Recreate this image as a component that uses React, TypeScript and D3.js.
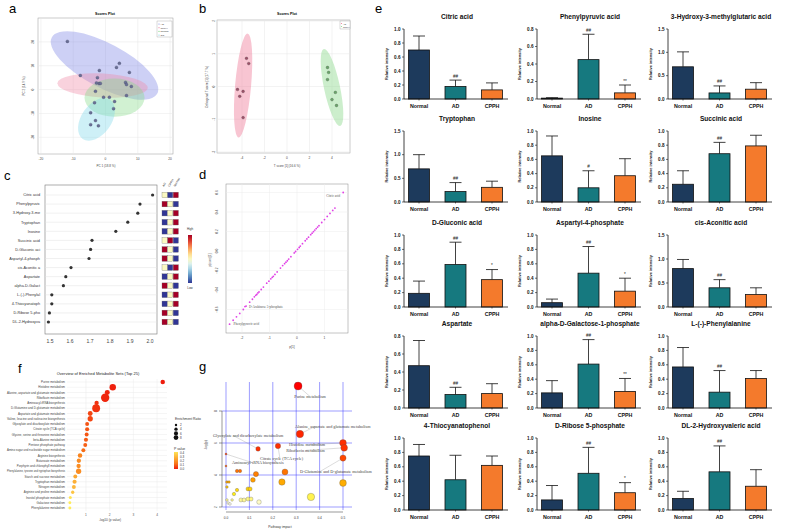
import React from "react";
import * as d3 from "d3";

const FONT = "'Liberation Sans', Arial, Helvetica, sans-serif";
const SERIF = "'Liberation Serif', 'Times New Roman', serif";

// ---------------- Panel a : PCA scores ----------------
const pcaLegend = ["AD", "CPPH", "Normal", "QC"];
const pcaTicks = [-20, -10, 0, 10, 20];
const pcaX = [-11.8, 4.3, 3.4, 7.4, -1.9, -7.8, -2.5, -2.0, -2.8, -1.6, 6.2, 6.5, 8.0, 6.5, -3.1, -0.6, 1.2, 2.8, 2.5, -3.4, -4.6, -3.1, -4.6, -2.2];
const pcaY = [20.2, 11, 9.3, 7.2, 8, 5.9, 5, 2.5, 2.8, 2.6, 3, 2.1, 1.3, -2.5, -0.7, -3.2, -3.2, -5, -8, -5.5, -9.7, -13, -14.7, -15.2];
const pcaEllCx = [-0.3, -0.9, 2.8, -2.8];
const pcaEllCy = [10.1, 1.7, -3.4, -12.5];
const pcaEllRx = [18.5, 14, 9.3, 7.4];
const pcaEllRy = [9.3, 5, 8, 6.3];
const pcaEllRot = [28, 3, 0, -55];
const pcaEllColor = ["#7b83e6", "#f08aa6", "#86d98a", "#7fd8ea"];

// ---------------- Panel b : OPLS-DA scores ----------------
const oplsLegend = ["AD", "CPPH"];
const oplsXTicks = [-4, -2, 0, 2, 4];
const oplsYTicks = [-2, -1, 0, 1, 2];
const oplsX = [-3.6, -3.4, -4.4, -4.2, -3.9, -3.9, 3.6, 3.7, 3.6, 4.3, 4.0, 4.4];
const oplsY = [0.86, 0.7, -0.09, -0.3, -0.15, -0.95, 0.58, 0.43, 0.21, -0.18, -0.4, -0.58];
const oplsGroup = [0, 0, 0, 0, 0, 0, 1, 1, 1, 1, 1, 1];
const oplsEllCx = [-3.9, 4.0];
const oplsEllCy = [0.03, -0.03];
const oplsEllRx = [0.71, 0.71];
const oplsEllRy = [1.59, 1.2];
const oplsEllRot = [5, -12];
const oplsEllColor = ["#f07f9c", "#8fd98f"];

// ---------------- Panel c : VIP ----------------
const vipNames = ["Citric acid", "Phenylpyruvic", "3-Hydroxy-3-me", "Tryptophan", "Inosine", "Succinic acid", "D-Gluconic aci", "Aspartyl-4-phosph", "cis-Aconitic a", "Aspartate", "alpha-D-Galact", "L-(-)-Phenylal", "4-Thiocyanatoph", "D-Ribose 5-pho", "DL-2-Hydroxyva"];
const vipScores = [2.013, 1.95, 1.939, 1.889, 1.829, 1.71, 1.703, 1.695, 1.605, 1.579, 1.567, 1.509, 1.509, 1.497, 1.492];
const vipTicks = [1.5, 1.6, 1.7, 1.8, 1.9, 2.0];
const heatCols = ["AD", "CPPH", "Normal"];
const heatAD = [0, 1, -1, -1, -1, 0, 1, 1, 0, -1, 1, -1, -1, 1, 1];
const heatCPPH = [-1, 0, 0, 0, 0, 1, 0, 0, -1, 0, 0, 0, 0, 0, 0];
const heatNormal = [1, -1, 1, 1, 1, -1, -1, -1, 1, 1, -1, 1, 1, -1, -1];

// ---------------- Panel d : S-plot ----------------
const sX = [-2.45, -2.32, -2.2, -2.08, -1.95, -1.89, -1.85, -1.72, -1.62, -1.55, -1.5, -1.46, -1.42, -1.38, -1.3, -1.22, -1.1, -1.02, -0.95, -0.9, -0.86, -0.8, -0.72, -0.6, -0.52, -0.45, -0.4, -0.35, -0.3, -0.22, -0.1, -0.05, 0.02, 0.08, 0.12, 0.2, 0.3, 0.36, 0.42, 0.5, 0.55, 0.6, 0.65, 0.7, 0.75, 0.8, 0.9, 1.0, 1.1, 1.2, 1.3, 1.38, 1.68];
const sY = [-0.75, -0.71, -0.675, -0.64, -0.6, -0.57, -0.565, -0.525, -0.495, -0.47, -0.455, -0.445, -0.43, -0.42, -0.395, -0.37, -0.33, -0.31, -0.285, -0.27, -0.26, -0.24, -0.215, -0.175, -0.15, -0.13, -0.115, -0.1, -0.083, -0.058, -0.02, -0.005, 0.017, 0.036, 0.05, 0.075, 0.105, 0.124, 0.142, 0.167, 0.183, 0.198, 0.214, 0.23, 0.245, 0.26, 0.292, 0.322, 0.354, 0.385, 0.416, 0.44, 0.6];
const sXTicks = [-2, -1, 0, 1];
const sYTicks = [-0.6, -0.4, -0.2, 0.0, 0.2, 0.4, 0.6];
const sLabels = ["Citric acid", "D-Arabinose 5-phosphate", "Phenylpyruvic acid"];
const sLabelIdx = [52, 5, 0];

// ---------------- Panel e : bar charts ----------------
const groups = ["Normal", "AD", "CPPH"];
const groupColors = ["#1d3a5c", "#16797f", "#f47a2c"];
const barTitles = ["Citric acid", "Phenylpyruvic acid", "3-Hydroxy-3-methylglutaric acid", "Tryptophan", "Inosine", "Succinic acid", "D-Gluconic acid", "Aspartyl-4-phosphate", "cis-Aconitic acid", "Aspartate", "alpha-D-Galactose-1-phosphate", "L-(-)-Phenylalanine", "4-Thiocyanatophenol", "D-Ribose 5-phosphate", "DL-2-Hydroxyvaleric acid"];
const barMeans = [
  [0.70, 0.18, 0.13], [0.01, 0.45, 0.07], [0.69, 0.13, 0.21],
  [0.70, 0.22, 0.31], [0.65, 0.20, 0.37], [0.25, 0.68, 0.79],
  [0.19, 0.59, 0.38], [0.06, 0.47, 0.22], [0.80, 0.40, 0.26],
  [0.47, 0.15, 0.16], [0.21, 0.61, 0.23], [0.57, 0.22, 0.41],
  [0.75, 0.42, 0.62], [0.14, 0.51, 0.24], [0.16, 0.53, 0.33],
];
const barErrTop = [
  [0.90, 0.27, 0.23], [0.015, 0.74, 0.16], [1.01, 0.28, 0.35],
  [1.00, 0.41, 0.44], [0.93, 0.44, 0.61], [0.44, 0.84, 0.94],
  [0.36, 0.90, 0.52], [0.11, 0.84, 0.40], [0.99, 0.57, 0.40],
  [0.75, 0.23, 0.27], [0.38, 0.95, 0.41], [0.84, 0.52, 0.52],
  [0.91, 0.76, 0.75], [0.34, 0.87, 0.38], [0.26, 0.89, 0.56],
];
const barMarks = [
  ["", "##", ""], ["", "##", "**"], ["", "##", ""],
  ["", "##", ""], ["", "#", ""], ["", "##", ""],
  ["", "##", "*"], ["", "##", "*"], ["", "##", ""],
  ["", "##", ""], ["", "##", "**"], ["", "##", ""],
  ["", "", ""], ["", "##", "*"], ["", "##", ""],
];
const barYMax = [1.0, 0.8, 1.5, 1.5, 1.0, 1.0, 1.0, 1.0, 1.5, 0.8, 1.0, 1.0, 1.0, 1.0, 1.0];
const barYStep = [0.2, 0.2, 0.5, 0.5, 0.2, 0.2, 0.2, 0.2, 0.5, 0.2, 0.2, 0.2, 0.2, 0.2, 0.2];

// ---------------- Panel f : enrichment ----------------
const msNames = ["Purine metabolism", "Histidine metabolism", "Alanine, aspartate and glutamate metabolism", "Riboflavin metabolism", "Aminoacyl-tRNA biosynthesis", "D-Glutamine and D-glutamate metabolism", "Aspartate and glutamate metabolism", "Valine, leucine and isoleucine biosynthesis", "Glyoxylate and dicarboxylate metabolism", "Citrate cycle (TCA cycle)", "Glycine, serine and threonine metabolism", "beta-Alanine metabolism", "Pentose phosphate pathway", "Amino sugar and nucleotide sugar metabolism", "Arginine biosynthesis", "Butanoate metabolism", "Porphyrin and chlorophyll metabolism", "Phenylalanine, tyrosine and tryptophan biosynthesis", "Starch and sucrose metabolism", "Tryptophan metabolism", "Nitrogen metabolism", "Arginine and proline metabolism", "Inositol phosphate metabolism", "Galactose metabolism", "Phenylalanine metabolism"];
const msLogP = [4.24, 2.13, 1.90, 1.81, 1.45, 1.43, 1.18, 1.18, 1.05, 1.05, 1.03, 1.0, 0.97, 0.89, 0.75, 0.70, 0.69, 0.69, 0.55, 0.52, 0.49, 0.44, 0.34, 0.32, 0.32];
const msRatio = [2.6, 5.4, 3.2, 9, 2.4, 8, 3.0, 3.6, 2, 2.2, 2, 2.2, 2, 2, 2.6, 2.4, 2.4, 3.6, 2, 2.2, 2, 1.4, 1.2, 1.1, 1.1];
const msTicks = [1, 2, 3, 4];
const msRatioLegend = [2, 4, 6, 8];
const msPLegend = [0.4, 0.3, 0.2, 0.1, 0.0];

// ---------------- Panel g : pathway impact ----------------
const pwImpact = [0.308, 0.316, 0.222, 0.137, 0.0, 0.0, 0.047, 0.06, 0.252, 0.128, 0.115, 0.239, 0.004, 0.013, 0.004, 0.047, 0.094, 0.103, 0.363, 0.034, 0.026, 0.064, 0.077, 0.094, 0.107, 0.141, 0.004, 0.009, 0.017, 0.5, 0.505, 0.5, 0.5];
const pwLogP = [9.56, 6.56, 5.81, 5.63, 5.31, 4.56, 4.25, 4.25, 4.19, 4.06, 3.69, 3.56, 3.56, 3.56, 3.25, 3.06, 3.13, 3.13, 2.63, 2.81, 2.44, 2.44, 2.44, 2.5, 2.5, 2.31, 2.44, 2.25, 2.19, 6.0, 5.7, 5.06, 3.5];
const pwSize = [4, 3.7, 2.7, 2.3, 1, 1, 1.7, 1.7, 3, 2.6, 2.4, 3.2, 1.3, 1.3, 1.3, 1.7, 2, 2, 3.7, 1.7, 1.3, 2, 2, 2, 2, 2.3, 1.3, 1.3, 1.3, 3.4, 3.4, 3.1, 3.4];
const pwXTicks = [0, 0.1, 0.2, 0.3, 0.4, 0.5];
const pwYTicks = [2, 4, 6, 8];
const pwLabels = ["Purine metabolism", "Alanine, aspartate and glutamate metabolism", "Glyoxylate and dicarboxylate metabolism", "Histidine metabolism", "Riboflavin metabolism", "Citrate cycle (TCA cycle)", "Aminoacyl-tRNA biosynthesis", "D-Glutamine and D-glutamate metabolism"];
const pwLabelIdx = [0, 1, 3, 29, 30, 2, 4, 31];
// label placement offsets (px) relative to the point
const pwLabelDx = [12, -5, -45, -54, -58, -18, 6, -43];
const pwLabelDy = [12, -6, -12, 3, 4, 14, 10, 15];
const pwLabelAnchor = ["middle", "start", "start", "start", "start", "start", "start", "start"];

const W = 787, H = 531;

function PanelA() {
  const x = d3.scaleLinear().domain([-20.9, 20.9]).range([38, 173]);
  const y = d3.scaleLinear().domain([-27, 30]).range([154, 18]);
  const kx = x(1) - x(0), ky = y(0) - y(1);
  return (
    <g>
      <text x={9} y={13} fontSize={13}>a</text>
      <text x={105} y={15} fontSize={3.6} fontWeight="bold" textAnchor="middle">Scores Plot</text>
      <rect x={38} y={18} width={135} height={136} fill="#fff" stroke="#999" strokeWidth={0.5} />
      {pcaTicks.map((t) => (
        <g key={"t" + t}>
          <line x1={x(t)} x2={x(t)} y1={18} y2={154} stroke="#e6e6e6" strokeWidth={0.5} />
          <line x1={38} x2={173} y1={y(t)} y2={y(t)} stroke="#e6e6e6" strokeWidth={0.5} />
          <text x={x(t)} y={160} fontSize={3.2} textAnchor="middle" fill="#444">{t}</text>
          <text x={33} y={y(t) + 1} fontSize={3.2} textAnchor="middle" fill="#444" transform={`rotate(-90 33 ${y(t)})`}>{t}</text>
        </g>
      ))}
      {pcaEllCx.map((c, i) => (
        <ellipse key={"e" + i} transform={`translate(${x(c)},${y(pcaEllCy[i])}) rotate(${pcaEllRot[i]})`} rx={pcaEllRx[i] * kx} ry={pcaEllRy[i] * ky} fill={pcaEllColor[i]} fillOpacity={0.38} />
      ))}
      {pcaX.map((v, i) => (
        <circle key={"p" + i} cx={x(v)} cy={y(pcaY[i])} r={1.5} fill="#6a6f95" stroke="#3c3f63" strokeWidth={0.3} />
      ))}
      <text x={106} y={167} fontSize={3} textAnchor="middle" fill="#444">PC 1 (18.8 %)</text>
      <text x={25} y={86} fontSize={3} textAnchor="middle" fill="#444" transform="rotate(-90 25 86)">PC 2 (14.9 %)</text>
      <rect x={157} y={21} width={15} height={16} fill="#fff" stroke="#888" strokeWidth={0.3} />
      {pcaLegend.map((s, i) => (
        <g key={"l" + i}>
          <circle cx={159} cy={24 + i * 3.7} r={0.6} fill={pcaEllColor[i]} />
          <text x={160.5} y={25 + i * 3.7} fontSize={2.5} fill="#333">{s}</text>
        </g>
      ))}
    </g>
  );
}

function PanelB() {
  const x = d3.scaleLinear().domain([-6.22, 5.6]).range([217, 350]);
  const y = d3.scaleLinear().domain([-2.03, 2.03]).range([153, 20]);
  const kx = x(1) - x(0), ky = y(0) - y(1);
  return (
    <g>
      <text x={199} y={13} fontSize={13}>b</text>
      <text x={287} y={15} fontSize={3.6} fontWeight="bold" textAnchor="middle">Scores Plot</text>
      <rect x={217} y={20} width={133} height={133} fill="#fff" stroke="#999" strokeWidth={0.5} />
      {oplsXTicks.map((t) => (
        <g key={"x" + t}>
          <line x1={x(t)} x2={x(t)} y1={20} y2={153} stroke="#e6e6e6" strokeWidth={0.5} />
          <text x={x(t)} y={159} fontSize={3.2} textAnchor="middle" fill="#444">{t}</text>
        </g>
      ))}
      {oplsYTicks.map((t) => (
        <g key={"y" + t}>
          <line x1={217} x2={350} y1={y(t)} y2={y(t)} stroke="#e6e6e6" strokeWidth={0.5} />
          <text x={214} y={y(t) + 1} fontSize={3.2} textAnchor="middle" fill="#444" transform={`rotate(-90 214 ${y(t)})`}>{t}</text>
        </g>
      ))}
      {oplsEllCx.map((c, i) => (
        <ellipse key={"e" + i} transform={`translate(${x(c)},${y(oplsEllCy[i])}) rotate(${oplsEllRot[i]})`} rx={oplsEllRx[i] * kx} ry={oplsEllRy[i] * ky} fill={oplsEllColor[i]} fillOpacity={0.45} />
      ))}
      {oplsX.map((v, i) => (
        <circle key={"p" + i} cx={x(v)} cy={y(oplsY[i])} r={1.4} fill={oplsGroup[i] ? "#6aa86a" : "#a0506a"} stroke="#444" strokeWidth={0.3} />
      ))}
      <text x={287} y={167} fontSize={3} textAnchor="middle" fill="#444">T score [1] (16.6 %)</text>
      <text x={208} y={87} fontSize={3} textAnchor="middle" fill="#444" transform="rotate(-90 208 87)">Orthogonal T score [1] (17.7 %)</text>
      <rect x={340} y={21} width={10} height={8} fill="#fff" stroke="#888" strokeWidth={0.3} />
      {oplsLegend.map((s, i) => (
        <g key={"l" + i}>
          <circle cx={341.5} cy={23.5 + i * 3} r={0.6} fill={oplsEllColor[i]} />
          <text x={343} y={24.5 + i * 3} fontSize={2.4} fill="#333">{s}</text>
        </g>
      ))}
    </g>
  );
}

function PanelC() {
  const x = d3.scaleLinear().domain([1.475, 2.035]).range([45, 157]);
  const y = d3.scalePoint<string>().domain(vipNames).range([195, 322]);
  const heat = (v: number) => d3.interpolateRdYlBu((1 - v) / 2);
  const heatRows = [heatAD, heatCPPH, heatNormal];
  const cx0 = 162, cw = 5.6;
  const stops = d3.range(0, 1.001, 0.1);
  return (
    <g>
      <defs>
        <linearGradient id="cbar" x1="0" y1="0" x2="0" y2="1">
          {stops.map((s) => <stop key={s} offset={s} stopColor={d3.interpolateRdYlBu(s)} />)}
        </linearGradient>
      </defs>
      <text x={4} y={180} fontSize={13}>c</text>
      <rect x={45} y={185} width={112} height={149} fill="#fff" stroke="#777" strokeWidth={0.6} />
      {vipNames.map((n, i) => (
        <g key={n}>
          <line x1={45} x2={157} y1={y(n)!} y2={y(n)!} stroke="#e0e0e0" strokeWidth={0.5} />
          <text x={40} y={y(n)! + 1.3} fontSize={3.8} textAnchor="end" fill="#333">{n}</text>
          <circle cx={x(vipScores[i])} cy={y(n)!} r={1.6} fill="#333" />
          {heatRows.map((hr, j) => (
            <rect key={j} x={cx0 + j * cw} y={y(n)! - 2.8} width={cw - 0.4} height={5.6} fill={heat(hr[i])} stroke="#666" strokeWidth={0.3} />
          ))}
        </g>
      ))}
      {heatCols.map((h, j) => (
        <text key={h} x={cx0 + j * cw + 2} y={187} fontSize={3} fill="#333" transform={`rotate(-60 ${cx0 + j * cw + 2} 187)`}>{h}</text>
      ))}
      {vipTicks.map((t) => (
        <text key={t} x={x(t)} y={343} fontSize={5} textAnchor="middle" fill="#444">{d3.format(".1f")(t)}</text>
      ))}
      <rect x={188} y={235} width={4} height={48} fill="url(#cbar)" />
      <text x={190} y={230} fontSize={3} textAnchor="middle" fill="#333">High</text>
      <text x={190} y={289} fontSize={3} textAnchor="middle" fill="#333">Low</text>
    </g>
  );
}

function PanelD() {
  const x = d3.scaleLinear().domain([-2.58, 1.855]).range([226, 348]);
  const y = d3.scaleLinear().domain([-0.841, 0.687]).range([333, 184]);
  return (
    <g>
      <text x={199} y={179} fontSize={13}>d</text>
      <rect x={226} y={184} width={122} height={149} fill="#fff" stroke="#888" strokeWidth={0.5} />
      {sXTicks.map((t) => (
        <g key={"x" + t}>
          <line x1={x(t)} x2={x(t)} y1={184} y2={333} stroke="#ececec" strokeWidth={0.5} />
          <text x={x(t)} y={339} fontSize={3.2} textAnchor="middle" fill="#444">{t}</text>
        </g>
      ))}
      {sYTicks.map((t) => (
        <g key={"y" + t}>
          <line x1={226} x2={348} y1={y(t)} y2={y(t)} stroke="#ececec" strokeWidth={0.5} />
          <text x={217} y={y(t) + 1} fontSize={3.2} textAnchor="middle" fill="#444" transform={`rotate(-90 217 ${y(t)})`}>{d3.format(".1f")(t)}</text>
        </g>
      ))}
      {sX.map((v, i) => (
        <circle key={i} cx={x(v)} cy={y(sY[i])} r={0.9} fill="#e040e6" />
      ))}
      {sLabels.map((s, i) => (
        <text key={s} x={x(sX[sLabelIdx[i]]) + (i === 0 ? -3 : 4)} y={y(sY[sLabelIdx[i]]) + (i === 0 ? 5 : 1)} fontSize={3.3} fontFamily={SERIF} fill="#555" textAnchor={i === 0 ? "end" : "start"}>{s}</text>
      ))}
      <text x={292} y={348} fontSize={3.2} textAnchor="middle" fill="#444">p[1]</text>
      <text x={211} y={260} fontSize={3.2} textAnchor="middle" fill="#444" transform="rotate(-90 211 260)">p(corr)[1]</text>
    </g>
  );
}

const colAxisX = [404, 537, 668];
const rowTop = [29, 131, 235, 336, 438];
const rowBottom = [99, 202, 307, 408, 510];

function BarChart({ idx }: { idx: number }) {
  const row = Math.floor(idx / 3), col = idx % 3;
  const ax = colAxisX[col], top = rowTop[row], bot = rowBottom[row];
  const y = d3.scaleLinear().domain([0, barYMax[idx]]).range([bot, top]);
  const x = d3.scalePoint<string>().domain(groups).range([ax + 15, ax + 88]);
  const ticks = d3.range(0, barYMax[idx] + 1e-9, barYStep[idx]);
  const bw = 21;
  return (
    <g>
      <text x={ax + 53} y={top - 10} fontSize={6.6} fontWeight="bold" textAnchor="middle" fill="#111">{barTitles[idx]}</text>
      <text x={ax - 16} y={(top + bot) / 2} fontSize={3.9} fontWeight="bold" textAnchor="middle" fill="#222" transform={`rotate(-90 ${ax - 16} ${(top + bot) / 2})`}>Relative intensity</text>
      {groups.map((g, j) => {
        const cx = x(g)!;
        const m = barMeans[idx][j], e = barErrTop[idx][j];
        return (
          <g key={g}>
            <line x1={cx} x2={cx} y1={y(m)} y2={y(e)} stroke="#111" strokeWidth={0.8} />
            <line x1={cx - 6} x2={cx + 6} y1={y(e)} y2={y(e)} stroke="#111" strokeWidth={0.8} />
            <rect x={cx - bw / 2} y={y(m)} width={bw} height={bot - y(m)} fill={groupColors[j]} stroke="#111" strokeWidth={0.8} />
            {barMarks[idx][j] && (
              <text x={cx} y={y(e) - 2.5} fontSize={4.6} textAnchor="middle" fill="#222">{barMarks[idx][j]}</text>
            )}
            <line x1={cx} x2={cx} y1={bot} y2={bot + 1.5} stroke="#111" strokeWidth={0.6} />
            <text x={cx} y={bot + 8.5} fontSize={5.3} fontWeight="bold" textAnchor="middle" fill="#111">{g}</text>
          </g>
        );
      })}
      <line x1={ax} x2={ax} y1={top} y2={bot} stroke="#111" strokeWidth={0.8} />
      <line x1={ax} x2={ax + 104} y1={bot} y2={bot} stroke="#111" strokeWidth={0.8} />
      {ticks.map((t) => (
        <g key={t}>
          <line x1={ax - 2} x2={ax} y1={y(t)} y2={y(t)} stroke="#111" strokeWidth={0.6} />
          <text x={ax - 3.5} y={y(t) + 1.6} fontSize={4.6} fontWeight="bold" textAnchor="end" fill="#111">{d3.format(".1f")(t)}</text>
        </g>
      ))}
    </g>
  );
}

function PanelE() {
  return (
    <g>
      <text x={375} y={13} fontSize={13}>e</text>
      {barTitles.map((_, i) => <BarChart key={i} idx={i} />)}
    </g>
  );
}

function PanelF() {
  const x = d3.scaleLinear().domain([0.2, 4.42]).range([67, 167]);
  const y = d3.scalePoint<string>().domain(msNames).range([382, 508]);
  const r = d3.scaleSqrt().domain([0, 10]).range([0, 4.4]);
  const col = d3.scaleLinear<string>().domain([0, 0.15, 0.5]).range(["#ee1c0c", "#f97a18", "#fff35e"]).clamp(true);
  const pStops = d3.range(0, 1.001, 0.1);
  return (
    <g>
      <defs>
        <linearGradient id="pbar" x1="0" y1="1" x2="0" y2="0">
          {pStops.map((s) => <stop key={s} offset={s} stopColor={col(s * 0.45)} />)}
        </linearGradient>
      </defs>
      <text x={18} y={373} fontSize={13}>f</text>
      <text x={98} y={375} fontSize={4} textAnchor="middle" fill="#222">Overview of Enriched Metabolite Sets (Top 25)</text>
      {msTicks.map((t) => (
        <g key={t}>
          <line x1={x(t)} x2={x(t)} y1={379} y2={511} stroke="#ebebeb" strokeWidth={0.5} />
          <text x={x(t)} y={516} fontSize={3.2} textAnchor="middle" fill="#555">{t}</text>
        </g>
      ))}
      {msNames.map((n) => {
        const long = n.length > 40;
        return (
          <g key={n}>
            <line x1={67} x2={167} y1={y(n)!} y2={y(n)!} stroke="#ebebeb" strokeWidth={0.5} />
            <text x={65} y={y(n)! + 1} fontSize={2.9} textAnchor="end" fill="#444" textLength={long ? 58 : undefined} lengthAdjust="spacingAndGlyphs">{n}</text>
          </g>
        );
      })}
      {msNames.map((n, i) => (
        <circle key={"c" + n} cx={x(msLogP[i])} cy={y(n)!} r={r(msRatio[i])} fill={col(Math.pow(10, -msLogP[i]))} />
      ))}
      <text x={110} y={521} fontSize={3.2} textAnchor="middle" fill="#444">-log10 (p value)</text>
      <text x={175} y={420} fontSize={3.4} fill="#333">Enrichment Ratio</text>
      {msRatioLegend.map((v, i) => (
        <g key={v}>
          <circle cx={176} cy={425 + i * 4.2} r={r(v) * 0.6} fill="#111" />
          <text x={180} y={426.2 + i * 4.2} fontSize={3} fill="#333">{v}</text>
        </g>
      ))}
      <text x={174} y={450} fontSize={3.4} fill="#333">P value</text>
      <rect x={174} y={452} width={4} height={17} fill="url(#pbar)" />
      {msPLegend.map((v, i) => (
        <text key={v} x={180} y={453.5 + i * 4} fontSize={3} fill="#333">{d3.format(".1f")(v)}</text>
      ))}
    </g>
  );
}

function PanelG() {
  const x = d3.scaleLinear().domain([0, 0.5]).range([226, 343]);
  const y = d3.scaleLinear().domain([2, 8]).range([507, 411]);
  const col = d3.scaleLinear<string>().domain([2.2, 2.8, 3.6, 4.3, 5.5, 9.5]).range(["#fffff0", "#ffee10", "#ffa500", "#ff6a00", "#ff3300", "#ff0000"]).clamp(true);
  const order = d3.range(pwImpact.length).sort((a, b) => pwSize[b] - pwSize[a]);
  return (
    <g>
      <text x={199} y={371} fontSize={13}>g</text>
      {pwXTicks.map((t) => (
        <g key={"x" + t}>
          <line x1={x(t)} x2={x(t)} y1={382} y2={510} stroke="#3b3bff" strokeWidth={0.5} />
          <text x={x(t)} y={519} fontSize={3.2} textAnchor="middle" fill="#333">{d3.format(".1f")(t)}</text>
        </g>
      ))}
      {pwYTicks.map((t) => (
        <g key={"y" + t}>
          <line x1={222} x2={352} y1={y(t)} y2={y(t)} stroke="#3b3bff" strokeWidth={0.5} />
          <line x1={219} x2={222} y1={y(t)} y2={y(t)} stroke="#333" strokeWidth={0.5} />
          <text x={216} y={y(t) + 1} fontSize={3.2} textAnchor="middle" fill="#333" transform={`rotate(-90 216 ${y(t)})`}>{t}</text>
        </g>
      ))}
      <line x1={222} x2={222} y1={y(8)} y2={y(2)} stroke="#333" strokeWidth={0.5} />
      <line x1={x(0)} x2={x(0.5)} y1={512} y2={512} stroke="#333" strokeWidth={0.5} />
      {pwLabelIdx.map((pi, i) => {
        const px = x(pwImpact[pi]), py = y(pwLogP[pi]);
        const tx = px + pwLabelDx[i], ty = py + pwLabelDy[i];
        return <line key={"ll" + i} x1={px} y1={py} x2={tx + (pwLabelAnchor[i] === "middle" ? 0 : 20)} y2={ty - 1.5} stroke="#888" strokeWidth={0.3} />;
      })}
      {order.map((i) => (
        <circle key={i} cx={x(pwImpact[i])} cy={y(pwLogP[i])} r={pwSize[i]} fill={col(pwLogP[i])} stroke="#555" strokeWidth={0.3} />
      ))}
      {pwLabelIdx.map((pi, i) => (
        <text key={"lt" + i} x={x(pwImpact[pi]) + pwLabelDx[i]} y={y(pwLogP[pi]) + pwLabelDy[i]} fontSize={4.2} fontFamily={SERIF} fill="#444" textAnchor={pwLabelAnchor[i]}>{pwLabels[i]}</text>
      ))}
      <text x={280} y={528} fontSize={3.3} textAnchor="middle" fill="#333">Pathway impact</text>
      <text x={207} y={445} fontSize={3.3} textAnchor="middle" fill="#333" transform="rotate(-90 207 445)">-log(p)</text>
    </g>
  );
}

export default function App() {
  return (
    <svg width={W} height={H} style={{ position: "absolute", left: 0, top: 0, background: "#fff" }} fontFamily={FONT}>
      <rect width={W} height={H} fill="#fff" />
      <PanelA />
      <PanelB />
      <PanelC />
      <PanelD />
      <PanelF />
      <PanelG />
      <PanelE />
    </svg>
  );
}
